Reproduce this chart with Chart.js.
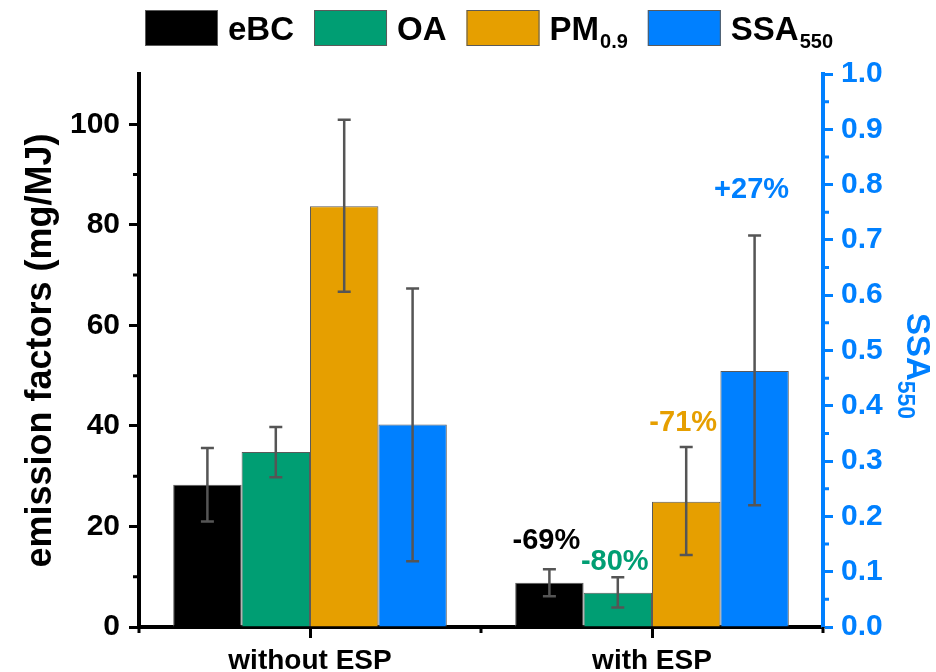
<!DOCTYPE html>
<html>
<head>
<meta charset="utf-8">
<script src="https://cdn.jsdelivr.net/npm/chart.js@4.4.1/dist/chart.umd.min.js"></script>
<style>
  html, body { margin: 0; padding: 0; background: #fff; }
  #wrap { width: 936px; height: 672px; }
</style>
</head>
<body>
<div id="wrap"><canvas id="chart" width="936" height="672"></canvas></div>
<script>
// Emission factors with and without the electrostatic precipitator (ESP)
const categories = ['without ESP', 'with ESP'];

const eBC    = [28.3, 8.8];
const OA     = [34.8, 6.8];
const PM09   = [83.7, 24.9];
const SSA550 = [0.366, 0.463];

// error ranges [low, high] per category
const eBCErr    = [[21.0, 35.6], [6.1, 11.5]];
const OAErr     = [[29.8, 39.8], [3.9, 9.9]];
const PM09Err   = [[66.7, 100.9], [14.3, 35.8]];
const SSA550Err = [[0.119, 0.612], [0.220, 0.708]];

// relative change with ESP, one per series
const changeLabels = ['-69%', '-80%', '-71%', '+27%'];

const leftRange  = [0, 110];
const rightRange = [0, 1.0];

const FONT = "'Liberation Sans', Arial, Helvetica, sans-serif";
const BLUE = '#0080ff';
const colors = ['#000000', '#009e73', '#e69f00', BLUE];

const seriesInfo = [
  { label: 'eBC', main: 'eBC', sub: '', data: eBC, err: eBCErr, axis: 'y' },
  { label: 'OA', main: 'OA', sub: '', data: OA, err: OAErr, axis: 'y' },
  { label: 'PM0.9', main: 'PM', sub: '0.9', data: PM09, err: PM09Err, axis: 'y' },
  { label: 'SSA550', main: 'SSA', sub: '550', data: SSA550, err: SSA550Err, axis: 'y1' }
];

// lift of each change label above its error-bar cap (px)
const changeLift = [28, 15, 24, 45];

const datasets = seriesInfo.map((s, i) => ({
  label: s.label,
  data: s.data,
  yAxisID: s.axis,
  backgroundColor: colors[i],
  borderColor: '#5a5a5a',
  borderWidth: 1,
  categoryPercentage: 0.8,
  barPercentage: 1.0,
  errors: s.err
}));

// error bars drawn over the bars
const errorBars = {
  id: 'errorBars',
  afterDatasetsDraw(chart) {
    const ctx = chart.ctx;
    ctx.save();
    ctx.strokeStyle = '#555555';
    ctx.lineWidth = 2.5;
    chart.data.datasets.forEach((ds, di) => {
      const meta = chart.getDatasetMeta(di);
      const sc = chart.scales[ds.yAxisID];
      meta.data.forEach((bar, k) => {
        const [lo, hi] = ds.errors[k];
        const x = bar.x;
        const y1 = sc.getPixelForValue(lo);
        const y2 = sc.getPixelForValue(hi);
        ctx.beginPath();
        ctx.moveTo(x, y1); ctx.lineTo(x, y2);
        ctx.moveTo(x - 6.5, y1); ctx.lineTo(x + 6.5, y1);
        ctx.moveTo(x - 6.5, y2); ctx.lineTo(x + 6.5, y2);
        ctx.stroke();
      });
    });
    ctx.restore();
  }
};

// change labels above the "with ESP" bars
const changeText = {
  id: 'changeText',
  afterDatasetsDraw(chart) {
    const ctx = chart.ctx;
    ctx.save();
    ctx.font = 'bold 29px ' + FONT;
    ctx.textAlign = 'center';
    ctx.textBaseline = 'middle';
    chart.data.datasets.forEach((ds, di) => {
      const bar = chart.getDatasetMeta(di).data[1];
      const sc = chart.scales[ds.yAxisID];
      const yTop = sc.getPixelForValue(ds.errors[1][1]);
      ctx.fillStyle = colors[di];
      ctx.fillText(changeLabels[di], bar.x - 3, yTop - changeLift[di]);
    });
    ctx.restore();
  }
};

// minor tick marks on all three axes
const minorTicks = {
  id: 'minorTicks',
  afterDraw(chart) {
    const ctx = chart.ctx;
    const { x, y, y1 } = chart.scales;
    ctx.save();
    ctx.lineWidth = 3;
    ctx.strokeStyle = '#000';
    ctx.beginPath();
    for (let v = 10; v < 100; v += 20) {
      const py = y.getPixelForValue(v);
      ctx.moveTo(y.right, py); ctx.lineTo(y.right - 6, py);
    }
    [-0.5, 0.5, 1.5].forEach(v => {
      const px = x.getPixelForValue(v);
      ctx.moveTo(px, x.top); ctx.lineTo(px, x.top + 6);
    });
    ctx.stroke();
    ctx.strokeStyle = BLUE;
    ctx.beginPath();
    for (let v = 0.05; v < 1; v += 0.1) {
      const py = y1.getPixelForValue(v);
      ctx.moveTo(y1.left, py); ctx.lineTo(y1.left + 6, py);
    }
    ctx.stroke();
    ctx.restore();
  }
};

// legend across the top with subscripted labels
const topLegend = {
  id: 'topLegend',
  afterDraw(chart) {
    const ctx = chart.ctx;
    ctx.save();
    let cx = 145;
    const boxTop = 10, boxW = 73, boxH = 36;
    seriesInfo.forEach((s, i) => {
      ctx.fillStyle = colors[i];
      ctx.fillRect(cx, boxTop, boxW, boxH);
      ctx.strokeStyle = '#5a5a5a';
      ctx.lineWidth = 1;
      ctx.strokeRect(cx + 0.5, boxTop + 0.5, boxW - 1, boxH - 1);
      cx += boxW + 10;
      ctx.fillStyle = '#000';
      ctx.textBaseline = 'alphabetic';
      ctx.textAlign = 'left';
      ctx.font = 'bold 33px ' + FONT;
      ctx.fillText(s.main, cx, 40);
      cx += ctx.measureText(s.main).width;
      if (s.sub) {
        ctx.font = 'bold 20px ' + FONT;
        ctx.fillText(s.sub, cx + 1, 48);
        cx += ctx.measureText(s.sub).width + 1;
      }
      cx += 20;
    });
    ctx.restore();
  }
};

// right axis title: SSA with subscript 550, reading downwards
const rightTitle = {
  id: 'rightTitle',
  afterDraw(chart) {
    const ctx = chart.ctx;
    ctx.save();
    ctx.translate(907, 366);
    ctx.rotate(Math.PI / 2);
    ctx.fillStyle = BLUE;
    ctx.textBaseline = 'alphabetic';
    ctx.textAlign = 'left';
    ctx.font = 'bold 33px ' + FONT;
    const wMain = ctx.measureText('SSA').width;
    ctx.font = 'bold 23px ' + FONT;
    const wSub = ctx.measureText('550').width;
    const start = -(wMain + wSub) / 2;
    ctx.font = 'bold 33px ' + FONT;
    ctx.fillText('SSA', start, 0);
    ctx.font = 'bold 23px ' + FONT;
    ctx.fillText('550', start + wMain, 9);
    ctx.restore();
  }
};

new Chart(document.getElementById('chart'), {
  type: 'bar',
  data: { labels: categories, datasets },
  options: {
    responsive: false,
    animation: false,
    devicePixelRatio: 1,
    layout: { padding: { top: 74, left: 0, right: 0, bottom: 0 } },
    plugins: { legend: { display: false }, tooltip: { enabled: false } },
    scales: {
      x: {
        grid: { display: true, drawOnChartArea: false, offset: false, tickLength: 11, tickWidth: 3, tickColor: '#000' },
        border: { display: true, width: 4, color: '#000' },
        ticks: { color: '#000', font: { family: FONT, size: 28, weight: 'bold' }, padding: 6 },
        afterFit(s) { s.height = 45; }
      },
      y: {
        position: 'left',
        min: leftRange[0], max: leftRange[1],
        grid: { display: true, drawOnChartArea: false, tickLength: 10, tickWidth: 3, tickColor: '#000' },
        border: { display: true, width: 4, color: '#000' },
        ticks: { stepSize: 20, includeBounds: false, color: '#000', padding: 9,
                 font: { family: FONT, size: 30, weight: 'bold' } },
        title: { display: true, text: 'emission factors (mg/MJ)', color: '#000',
                 font: { family: FONT, size: 36, weight: 'bold' }, padding: { top: 19, bottom: 0 } },
        afterFit(s) { s.width = 139; }
      },
      y1: {
        position: 'right',
        min: rightRange[0], max: rightRange[1],
        grid: { display: true, drawOnChartArea: false, tickLength: 10, tickWidth: 3, tickColor: BLUE },
        border: { display: true, width: 4, color: BLUE },
        ticks: { stepSize: 0.1, color: BLUE, padding: 8,
                 font: { family: FONT, size: 30, weight: 'bold' },
                 callback: v => Number(v).toFixed(1) },
        afterFit(s) { s.width = 113; }
      }
    }
  },
  plugins: [errorBars, changeText, minorTicks, topLegend, rightTitle]
});
</script>
</body>
</html>
